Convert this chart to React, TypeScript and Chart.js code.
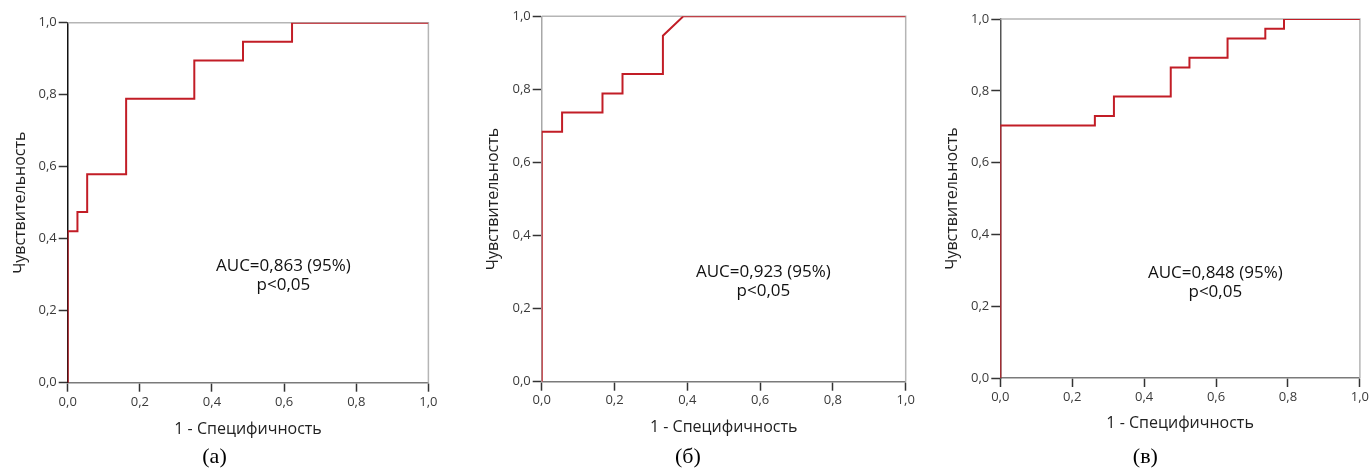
import React, { useEffect, useRef } from 'react';
import { Chart, registerables } from 'chart.js';

Chart.register(...registerables);

// ---- data ----
const tickValues = [0, 0.2, 0.4, 0.6, 0.8, 1.0];
const xAxisTitle = '1 - Специфичность';
const yAxisTitle = 'Чувствительность';
const pLabel = 'p<0,05';

// (а)
const fprA = [0, 0, 0.027, 0.027, 0.054, 0.054, 0.162, 0.162, 0.351, 0.351, 0.486, 0.486, 0.622, 0.622, 1];
const tprA = [0, 0.421, 0.421, 0.474, 0.474, 0.579, 0.579, 0.789, 0.789, 0.895, 0.895, 0.947, 0.947, 1, 1];
// (б)
const fprB = [0, 0, 0.056, 0.056, 0.167, 0.167, 0.222, 0.222, 0.333, 0.333, 0.389, 1];
const tprB = [0, 0.684, 0.684, 0.737, 0.737, 0.789, 0.789, 0.842, 0.842, 0.947, 1, 1];
// (в)
const fprC = [0, 0, 0.263, 0.263, 0.316, 0.316, 0.474, 0.474, 0.526, 0.526, 0.632, 0.632, 0.737, 0.737, 0.789, 0.789, 1];
const tprC = [0, 0.703, 0.703, 0.730, 0.730, 0.784, 0.784, 0.865, 0.865, 0.892, 0.892, 0.946, 0.946, 0.973, 0.973, 1, 1];

const aucLabels = ['AUC=0,863 (95%)', 'AUC=0,923 (95%)', 'AUC=0,848 (95%)'];
const panelLabels = ['(а)', '(б)', '(в)'];

// ---- layout / style (not data) ----
type Panel = {
  fpr: number[];
  tpr: number[];
  auc: string;
  label: string;
  left: number;
  width: number;
  padTop: number;
  padRight: number;
  yWidth: number;
  xHeight: number;
  xTitlePad: number;
  yTitlePad: number;
  xTickPad: number;
  leftAxisColor: string;
  annX: number;
  annY: number;
};

const panels: Panel[] = [
  { fpr: fprA, tpr: tprA, auc: aucLabels[0], label: panelLabels[0], left: 0, width: 440, padTop: 22.7, padRight: 11, yWidth: 67.7, xHeight: 60.9, xTitlePad: 4.7, yTitlePad: 10.4, xTickPad: 2.5, leftAxisColor: '#111', annX: 0.598, annY: 0.325 },
  { fpr: fprB, tpr: tprB, auc: aucLabels[1], label: panelLabels[1], left: 470, width: 450, padTop: 16.3, padRight: 14.3, yWidth: 71.7, xHeight: 61.9, xTitlePad: 6.3, yTitlePad: 13.7, xTickPad: 1.5, leftAxisColor: '#a8a8a8', annX: 0.609, annY: 0.301 },
  { fpr: fprC, tpr: tprC, auc: aucLabels[2], label: panelLabels[2], left: 930, width: 441, padTop: 19, padRight: 10.3, yWidth: 70.3, xHeight: 65.6, xTitlePad: 10.7, yTitlePad: 13.1, xTickPad: 2, leftAxisColor: '#555', annX: 0.598, annY: 0.292 },
];

const HEIGHT = 470;
const SANS = "'Open Sans', 'DejaVu Sans', sans-serif";
const fmt = (v: number) => v.toFixed(1).replace('.', ',');

function RocPanel({ p }: { p: Panel }) {
  const ref = useRef<HTMLCanvasElement | null>(null);
  useEffect(() => {
    if (!ref.current) return;
    const framePlugin = {
      id: 'frame' + p.left,
      beforeDatasetsDraw(chart: any) {
        const { ctx, chartArea } = chart;
        ctx.save();
        ctx.strokeStyle = '#b5b5b5';
        ctx.lineWidth = 1.5;
        ctx.beginPath();
        ctx.moveTo(chartArea.left, chartArea.top);
        ctx.lineTo(chartArea.right, chartArea.top);
        ctx.lineTo(chartArea.right, chartArea.bottom);
        ctx.stroke();
        ctx.restore();
      },
      afterDatasetsDraw(chart: any) {
        const { ctx, scales } = chart;
        const x = scales.x.getPixelForValue(p.annX);
        const y = scales.y.getPixelForValue(p.annY);
        ctx.save();
        ctx.fillStyle = '#111';
        ctx.font = `17px ${SANS}`;
        ctx.textAlign = 'center';
        ctx.textBaseline = 'middle';
        ctx.fillText(p.auc, x, y);
        ctx.fillText(pLabel, x, y + 19.4);
        ctx.restore();
      },
    };
    const chart = new Chart(ref.current, {
      type: 'line',
      data: {
        datasets: [
          {
            data: p.fpr.map((f, i) => ({ x: f, y: p.tpr[i] })),
            borderColor: '#c21d26',
            borderWidth: 2,
            pointRadius: 0,
            tension: 0,
            fill: false,
          },
        ],
      },
      options: {
        responsive: false,
        animation: false,
        layout: { padding: { top: p.padTop, right: p.padRight, left: 0, bottom: 0 } },
        plugins: {
          legend: { display: false },
          tooltip: { enabled: false },
          title: {
            display: true,
            text: p.label,
            position: 'bottom',
            font: { family: "'Liberation Serif', 'Times New Roman', serif", size: 22, weight: 'normal' },
            color: '#000',
            padding: 0,
          },
        },
        scales: {
          x: {
            type: 'linear',
            min: 0,
            max: 1,
            afterBuildTicks: (s: any) => { s.ticks = tickValues.map((v) => ({ value: v })); },
            afterFit: (s: any) => { s.height = p.xHeight; },
            ticks: {
              callback: (v: any) => fmt(Number(v)),
              font: { family: SANS, size: 13 },
              color: '#3a3a3a',
              padding: p.xTickPad,
              maxRotation: 0,
              autoSkip: false,
            },
            grid: { drawOnChartArea: false, drawTicks: true, tickLength: 9, tickColor: '#333', tickWidth: 1.5 },
            border: { display: true, color: '#7a7a7a', width: 1.5 },
            title: {
              display: true,
              text: xAxisTitle,
              font: { family: SANS, size: 16 },
              color: '#222',
              padding: { top: 0, bottom: p.xTitlePad },
            },
          },
          y: {
            type: 'linear',
            min: 0,
            max: 1,
            afterBuildTicks: (s: any) => { s.ticks = tickValues.map((v) => ({ value: v })); },
            afterFit: (s: any) => { s.width = p.yWidth; },
            ticks: {
              callback: (v: any) => fmt(Number(v)),
              font: { family: SANS, size: 13 },
              color: '#3a3a3a',
              padding: 2,
              autoSkip: false,
            },
            grid: { drawOnChartArea: false, drawTicks: true, tickLength: 9, tickColor: '#333', tickWidth: 1.5 },
            border: { display: true, color: p.leftAxisColor, width: 1.5 },
            title: {
              display: true,
              text: yAxisTitle,
              font: { family: SANS, size: 16 },
              color: '#222',
              padding: { top: p.yTitlePad, bottom: 0 },
            },
          },
        },
      },
      plugins: [framePlugin],
    } as any);
    return () => chart.destroy();
  }, [p]);
  return (
    <div style={{ position: 'absolute', left: p.left, top: 0, width: p.width, height: HEIGHT }}>
      <canvas ref={ref} width={p.width} height={HEIGHT} style={{ width: p.width, height: HEIGHT, display: 'block' }} />
    </div>
  );
}

export default function App() {
  return (
    <div style={{ position: 'absolute', left: 0, top: 0, width: 1371, height: HEIGHT, background: '#fff', overflow: 'hidden' }}>
      {panels.map((p) => (
        <RocPanel key={p.left} p={p} />
      ))}
    </div>
  );
}
